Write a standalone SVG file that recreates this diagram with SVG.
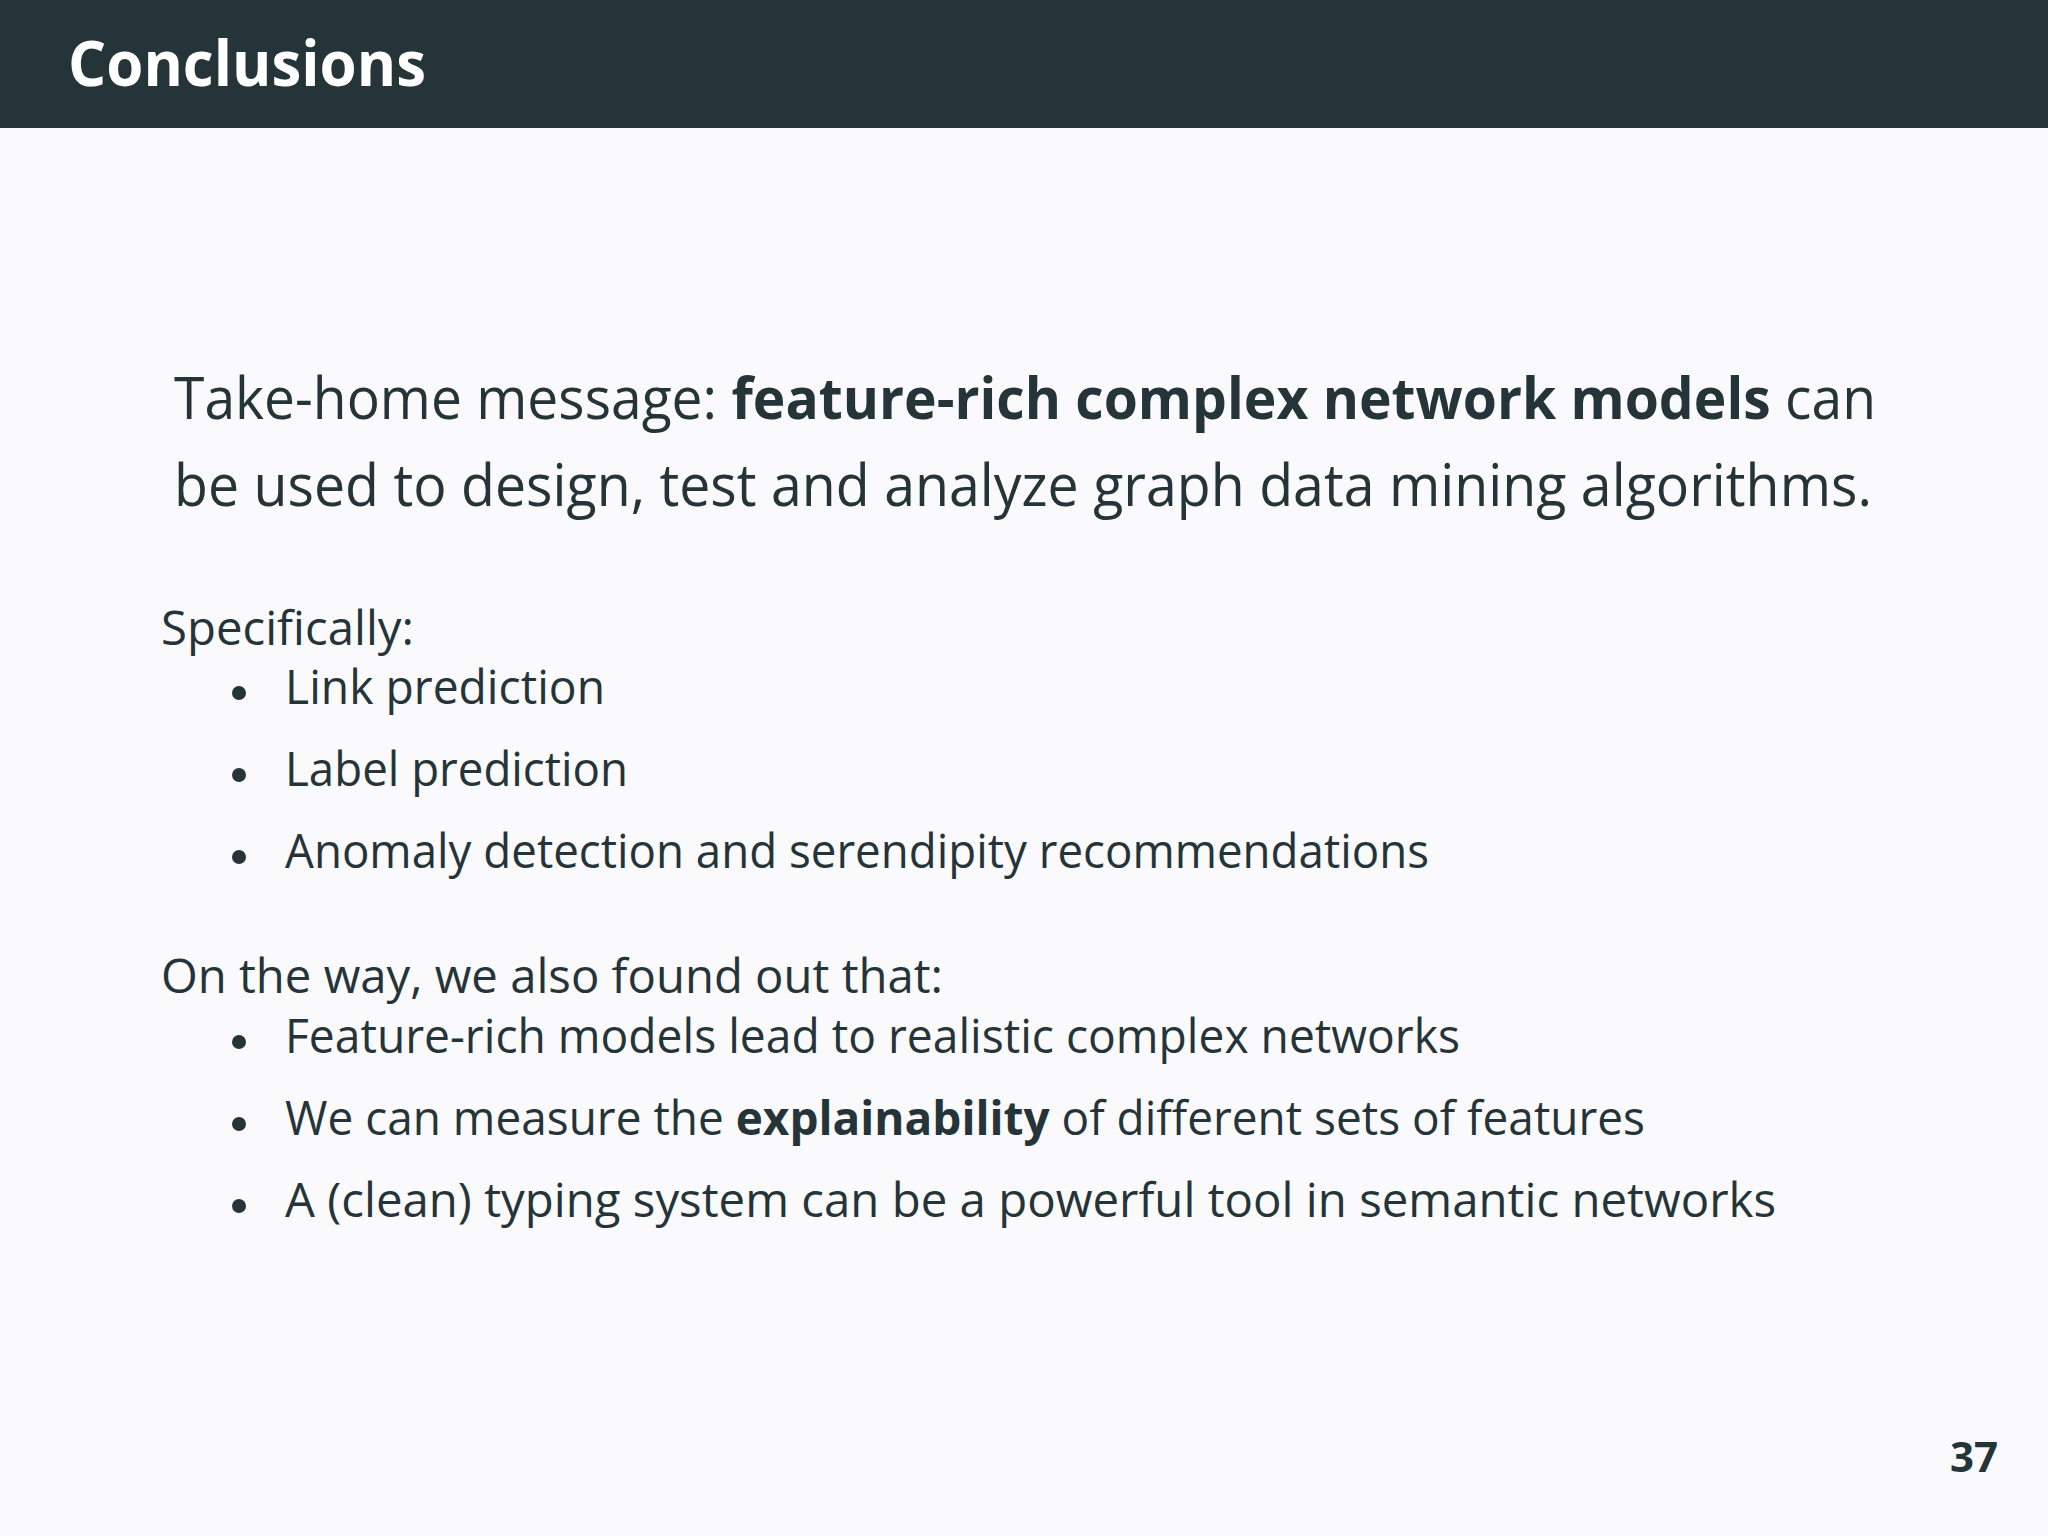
<svg xmlns="http://www.w3.org/2000/svg" width="2048" height="1536" viewBox="0 0 2048 1536">
<style>
text{font-family:"Open Sans","Liberation Sans",sans-serif;fill:#253439}
.m{font-size:58px}
.b{font-size:47px}
.bold{font-weight:bold}
</style>
<rect width="2048" height="1536" fill="#fafafc"/>
<g id="header">
<rect width="2048" height="128" fill="#253439"/>
<text x="68" y="86" font-size="62" font-weight="bold" style="fill:#ffffff" textLength="358" lengthAdjust="spacingAndGlyphs">Conclusions</text>
</g>
<g id="message">
<text class="m" x="174" y="419" textLength="1702" lengthAdjust="spacingAndGlyphs">Take-home message:  <tspan class="bold">feature-rich complex network models</tspan> can</text>
<text class="m" x="174" y="506" textLength="1698" lengthAdjust="spacingAndGlyphs">be used to design, test and analyze graph data mining algorithms.</text>
</g>
<g id="specifically">
<text class="b" x="161" y="645" textLength="253" lengthAdjust="spacingAndGlyphs">Specifically:</text>
<circle cx="239" cy="693" r="7" fill="#253439"/>
<text class="b" x="285" y="704" textLength="320" lengthAdjust="spacingAndGlyphs">Link prediction</text>
<circle cx="239" cy="775" r="7" fill="#253439"/>
<text class="b" x="285" y="786" textLength="343" lengthAdjust="spacingAndGlyphs">Label prediction</text>
<circle cx="239" cy="857" r="7" fill="#253439"/>
<text class="b" x="285" y="868" textLength="1144" lengthAdjust="spacingAndGlyphs">Anomaly detection and serendipity recommendations</text>
</g>
<g id="ontheway">
<text class="b" x="161" y="993" textLength="782" lengthAdjust="spacingAndGlyphs">On the way, we also found out that:</text>
<circle cx="239" cy="1042" r="7" fill="#253439"/>
<text class="b" x="285" y="1053" textLength="1175" lengthAdjust="spacingAndGlyphs">Feature-rich models lead to realistic complex networks</text>
<circle cx="239" cy="1124" r="7" fill="#253439"/>
<text class="b" x="285" y="1135" textLength="1360" lengthAdjust="spacingAndGlyphs">We can measure the <tspan class="bold">explainability</tspan> of different sets of features</text>
<circle cx="239" cy="1206" r="7" fill="#253439"/>
<text class="b" x="285" y="1217" textLength="1491" lengthAdjust="spacingAndGlyphs">A (clean) typing system can be a powerful tool in semantic networks</text>
</g>
<g id="page">
<text x="1998" y="1472" font-size="42" font-weight="bold" text-anchor="end">37</text>
</g>
</svg>
